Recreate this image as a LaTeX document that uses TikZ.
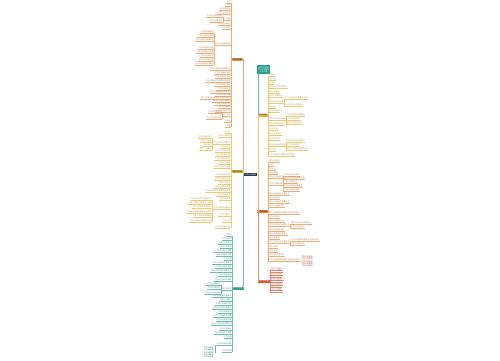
\documentclass[tikz,border=0pt]{standalone}
\usepackage{fontspec}
\newfontfamily\cjk{Noto Sans CJK SC}
\definecolor{co}{HTML}{E8883A}
\definecolor{cy}{HTML}{E6B231}
\definecolor{ct}{HTML}{2E9E8F}
\definecolor{cr}{HTML}{D65A3A}
\definecolor{cdark}{HTML}{1F3A4B}
\newcount\mycnt
\def\mytxt{工作计划目标内容要点完成情况总结安排方案措施任务责任时间要求提升管理质量服务发展建设推进落实制度规范培训学习考核评估检查整改创新改革标准流程}
\def\takeloop#1{\ifx#1\relax\let\mynext\relax\else\ifnum\mycnt>0 #1\advance\mycnt by -1 \let\mynext\takeloop\else\let\mynext\gobbletorelax\fi\fi\mynext}
\def\gobbletorelax#1\relax{}
\newcommand\tk[1]{{\mycnt=#1\relax\expandafter\takeloop\mytxt\relax}}
\tikzset{
  leaf/.style={anchor=south,inner sep=0pt,inner ysep=0.25pt,outer sep=0pt,font=\cjk\fontsize{1.9}{2}\selectfont},
  leafline/.style={line width=0.25pt},
  branch/.style={line width=0.4pt},
  mainnode/.style={inner sep=0pt,outer sep=0pt,minimum width=12pt,minimum height=3pt,font=\cjk\fontsize{1.9}{2}\selectfont},
  blk/.style={inner sep=0.3pt,outer sep=0pt,text width=11pt,align=left,font=\cjk\fontsize{1.9}{2.3}\selectfont}
}
\newcommand\lf[5]{%
  \pgfmathsetmacro\lw{#4-#3}%
  \pgfmathtruncatemacro\nchr{max(1,floor(\lw/1.9))}%
  \node[leaf,text=#5!55!gray,minimum width=\lw pt] (#1) at ({(#3+#4)/2},#2) {\tk{\nchr}};
  \draw[#5!70!white,leafline] (#1.south west) -- (#1.south east);
}
\begin{document}
\begin{tikzpicture}[x=1pt,y=-1pt]
\fill[white] (0,0) rectangle (500,360);
\useasboundingbox (0,0) rectangle (500,360);

% ---------- central and main nodes ----------
\node[mainnode,fill=cdark,text=white,minimum width=13pt,minimum height=3.5pt] (C) at (250.5,174.5) {\tk{6}};
\node[mainnode,fill=co!90!white,text=black] (MO) at (237,59.5) {\tk{5}};
\node[mainnode,fill=cy,text=black] (MY) at (237,171.5) {\tk{5}};
\node[mainnode,fill=ct,text=white] (MT) at (237.5,288) {\tk{5}};
\node[inner sep=0.5pt,outer sep=0pt,fill=ct,minimum width=13pt,minimum height=9pt,text=white,align=center,font=\cjk\fontsize{1.9}{2.2}\selectfont] (IMG) at (263.5,69.5) {\tk{5}\\\tk{6}\\\tk{4}};
\node[mainnode,fill=cy,text=black,minimum width=10pt] (RY) at (263,115) {\tk{4}};
\node[mainnode,fill=co,text=black,minimum width=11pt] (RO) at (262.5,211.5) {\tk{5}};
\node[mainnode,fill=cr,text=white] (RR) at (264,281) {\tk{5}};

% ---------- main connectors ----------
\draw[co!70!white,branch] (C.west) -- ++(-0.7,0) |- (MO.east);
\draw[ct!70!white,branch] (C.west) -- ++(-0.7,0) |- (MT.east);
\draw[cy!70!white,branch] (C.west) -- ++(-0.7,0) |- (MY.east);
\draw[ct!70!white,branch] (C.east) -- ++(0.7,0) coordinate (rt) -- (rt |- IMG.south);
\draw[cy!70!white,branch] (C.east) -- ++(0.7,0) |- (RY.west);
\draw[cr!70!white,branch] (C.east) -- ++(0.7,0) |- (RR.west);
\draw[co!70!white,branch] (C.east) -- ++(0.7,0) |- (RO.west);

% ---------- left orange ----------
\foreach \y/\a in {3/226,6/225,10/219,14/217,20/223,25/218,29/222,45/214,70/210,74/214,78/215,82/205,86/214,90/216,93/210,96/215,99/200,102/212,105/214,108/218,112/215,116/222,122/224,127/225}{\lf{LO\y}{\y}{\a}{231}{co}}
\draw[co!70!white,leafline] (LO3.south east) -- (LO127.south east);
\foreach \y/\a in {17/206,22/209}{\lf{LOa\y}{\y}{\a}{223}{co}}
\draw[co!70!white,leafline] (LOa17.south east) -- (LOa22.south east);
\foreach \y/\a in {33/200,37/197,41/195,49/198,53/196,57/200,61/198,65/195}{\lf{LOb\y}{\y}{\a}{214}{co}}
\draw[co!70!white,leafline] (LOb33.south east) -- (LOb65.south east);
\foreach \y/\a in {113/208,119/206}{\lf{LOc\y}{\y}{\a}{222}{co}}
\draw[co!70!white,leafline] (LOc113.south east) -- (LOc119.south east);

% ---------- left yellow ----------
\foreach \y/\a in {133/225,137/218,144/212,148/220,152/215,156/215,160/214,164/218,168/213,176/215,180/214,184/218,188/213,192/205,196/216,200/219,209/212,216/218,222/222,228/215}{\lf{LY\y}{\y}{\a}{231}{cy}}
\draw[cy!70!white,leafline] (LY133.south east) -- (LY228.south east);
\foreach \y/\a in {138/198,142/200,146/202,150/199}{\lf{LYa\y}{\y}{\a}{212}{cy}}
\draw[cy!70!white,leafline] (LYa138.south east) -- (LYa150.south east);
\foreach \y/\a in {200/190,204/187,208/192,213/186,217/193,222/189}{\lf{LYb\y}{\y}{\a}{212}{cy}}
\draw[cy!70!white,leafline] (LYb200.south east) -- (LYb222.south east);

% ---------- left teal ----------
\foreach \y/\a in {236/226,240/222,244/218,248/220,252/214,256/216,260/224,264/212,268/215,272/210,276/218,281/214,290/221,297/212,301/219,305/215,309/212,313/218,317/214,321/216,325/211,330/219,334/214,338/224,345/216,352/222}{\lf{LT\y}{\y}{\a}{232}{ct}}
\draw[ct!70!white,leafline] (LT236.south east) -- (LT352.south east);
\foreach \y/\a in {285/206,289/207,294/204}{\lf{LTa\y}{\y}{\a}{221}{ct}}
\draw[ct!70!white,leafline] (LTa285.south east) -- (LTa294.south east);
\node[blk,text=ct!75!black,anchor=east] (LTB) at (215,352.5) {\tk{5}\\\tk{5}\\\tk{5}\\\tk{5}\\\tk{5}};
\draw[ct!70!white,leafline] (LT345.south west) -- ++(-0.5,0) |- (LTB.east);

% ---------- right yellow ----------
\foreach \y/\b in {76/275,80/276,84/274,88/288,93/280,97/283,103/284,108/276,112/280,120/286,125/285,130/278,135/282,140/280,146/286,151/276,156/295}{\lf{RY\y}{\y}{268}{\b}{cy}}
\draw[cy!70!white,leafline] (RY76.south west) -- (RY156.south west);
\foreach \y/\b in {99/308,106/303}{\lf{RYa\y}{\y}{284}{\b}{cy}}
\draw[cy!70!white,leafline] (RYa99.south west) -- (RYa106.south west);
\foreach \y/\b in {116/305,120/300,124/303}{\lf{RYb\y}{\y}{286}{\b}{cy}}
\draw[cy!70!white,leafline] (RYb116.south west) -- (RYb124.south west);
\foreach \y/\b in {142/305,146/300,150/308}{\lf{RYc\y}{\y}{286}{\b}{cy}}
\draw[cy!70!white,leafline] (RYc142.south west) -- (RYc150.south west);

% ---------- right orange ----------
\foreach \y/\b in {162/280,166/274,170/276,174/278,178/285,185/283,195/290,199/280,203/290,207/285,214/300,218/280,222/285,226/290,231/285,235/288,239/280,243/290,248/278,252/278,256/285,261/300}{\lf{RO\y}{\y}{268}{\b}{co}}
\draw[co!70!white,leafline] (RO162.south west) -- (RO261.south west);
\foreach \y/\b in {176/300,179/305,183/298,187/303,191/300}{\lf{ROa\y}{\y}{283}{\b}{co}}
\draw[co!70!white,leafline] (ROa176.south west) -- (ROa191.south west);
\foreach \y/\b in {224/312,228/305}{\lf{ROb\y}{\y}{290}{\b}{co}}
\draw[co!70!white,leafline] (ROb224.south west) -- (ROb228.south west);
\foreach \y/\b in {241/320,245/305}{\lf{ROc\y}{\y}{290}{\b}{co}}
\draw[co!70!white,leafline] (ROc241.south west) -- (ROc245.south west);
\node[blk,text=cr!80!black,anchor=west] (ROB) at (301,261.5) {\tk{6}\\\tk{6}\\\tk{6}\\\tk{6}\\\tk{6}};
\draw[co!70!white,leafline] (RO261.south east) -- (ROB.west);

% ---------- right red ----------
\foreach \y/\b in {270/283,272/283,275/283,277/282,280/284,282/283,285/283,287/282,290/283,292/283}{\lf{RR\y}{\y}{270}{\b}{cr}}
\draw[cr!70!white,leafline] (RR270.south west) -- (RR292.south west);
\end{tikzpicture}
\end{document}
